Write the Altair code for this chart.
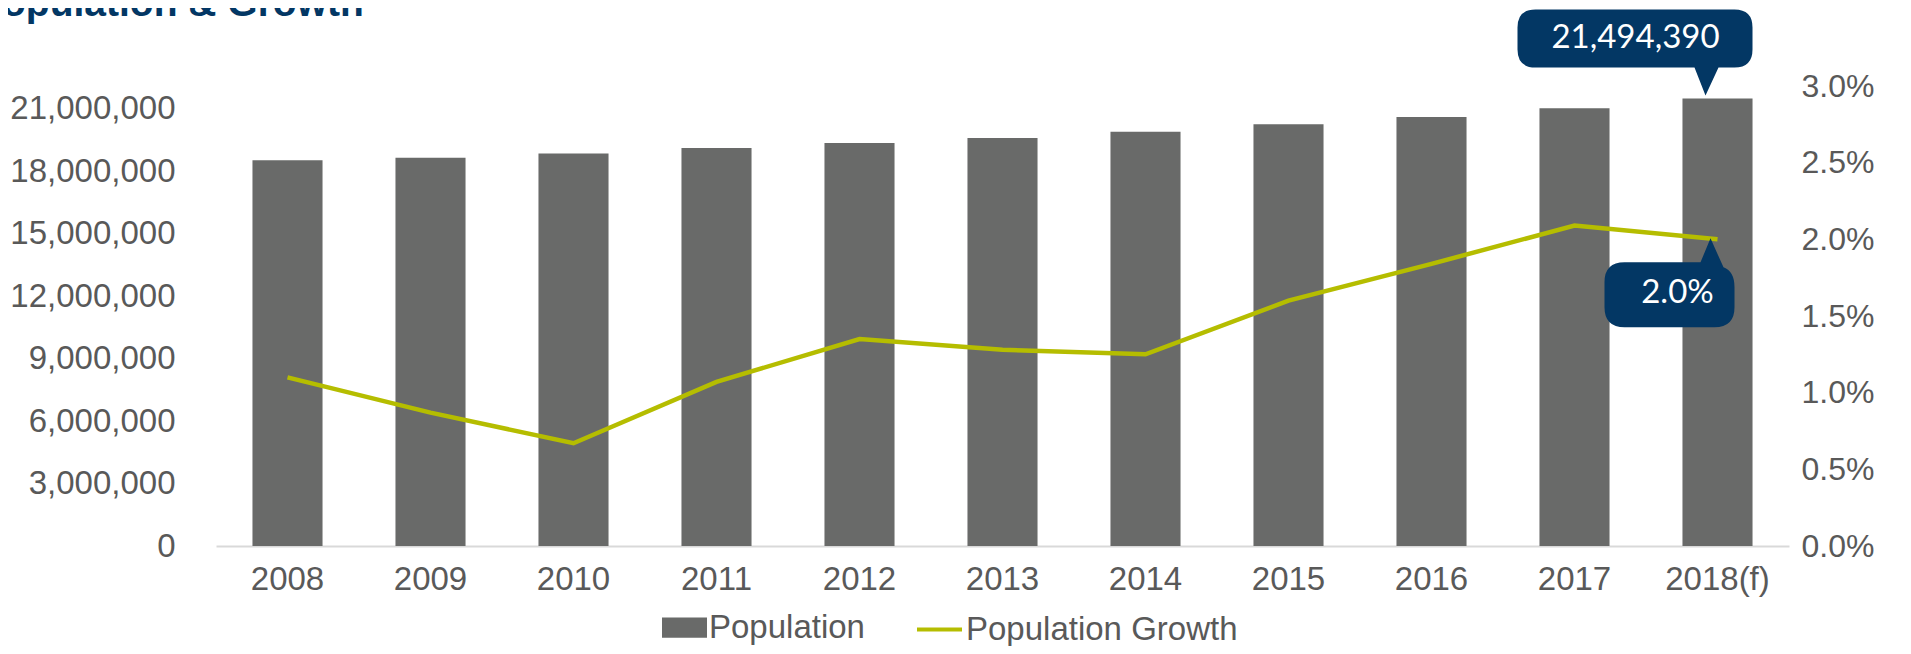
import altair as alt
import pandas as pd

YEARS = ["2008", "2009", "2010", "2011", "2012", "2013", "2014", "2015", "2016", "2017", "2018(f)"]
POPULATION = [18530000, 18650000, 18860000, 19120000, 19360000, 19600000, 19900000,
              20260000, 20610000, 21030000, 21494390]
GROWTH = [0.0110, 0.0087, 0.0067, 0.0107, 0.0135, 0.0128, 0.0125, 0.0160, 0.0184, 0.0209, 0.0200]
SERIES = ["Population", "Population Growth"]
POP_TICKS = [0, 3000000, 6000000, 9000000, 12000000, 15000000, 18000000, 21000000]
GROWTH_TICKS = [0.0, 0.005, 0.010, 0.015, 0.020, 0.025, 0.030]
TITLE = "Population & Growth"
HIGHLIGHT = "2018(f)"

GRAY = "#696A69"
OLIVE = "#B5BD00"
NAVY = "#033764"
LABEL = "#595959"
FONT = "Liberation Sans"
CALLOUT_FONT = "Lato"

# callout shapes (custom symbol paths, 1 unit = 1 px when size=4)
BOX_TOP = ("M-182,-89 L17,-89 Q35,-89 35,-71 L35,-49 Q35,-31 17,-31 L1,-31 L-12,-3 "
           "L-23,-31 L-182,-31 Q-200,-31 -200,-49 L-200,-71 Q-200,-89 -182,-89 Z")
BOX_LINE = ("M-93,23 L-17,23 L-7,-1 L6,28 Q17,32 17,48 L17,68 Q17,88 -3,88 L-93,88 "
            "Q-113,88 -113,68 L-113,43 Q-113,23 -93,23 Z")
RECT_SYMBOL = "M-1,-0.45H1V0.45H-1Z"

df = pd.DataFrame({"year": YEARS, "population": POPULATION, "growth": GROWTH})

X = alt.X("year:N", sort=YEARS,
          scale=alt.Scale(paddingInner=0.51, paddingOuter=0.255),
          axis=alt.Axis(title=None, labelAngle=0, labelFont=FONT, labelFontSize=33,
                        labelColor=LABEL, labelPadding=17, ticks=False, tickSize=0,
                        domainColor="#D9D9D9", domainWidth=2, grid=False))

Y_POP = alt.Y("population:Q",
              scale=alt.Scale(domain=[0, 22100000], nice=False, zero=True),
              axis=alt.Axis(title=None, orient="left", values=POP_TICKS,
                            labelExpr="format(datum.value, ',')",
                            labelFont=FONT, labelFontSize=33, labelColor=LABEL,
                            labelPadding=41, ticks=False, tickSize=0, domain=False,
                            grid=False))

Y_GROWTH = alt.Y("growth:Q",
                 scale=alt.Scale(domain=[0, 0.03], nice=False, zero=True),
                 axis=alt.Axis(title=None, orient="right", values=GROWTH_TICKS,
                               labelExpr="format(datum.value, '.1%')",
                               labelFont=FONT, labelFontSize=32, labelColor=LABEL,
                               labelPadding=12, ticks=False, tickSize=0, domain=False,
                               grid=False))

LEG_COMMON = dict(title=None, orient="none", direction="horizontal", legendY=519,
                  labelFont=FONT, labelFontSize=33, labelColor=LABEL, labelOffset=2,
                  labelLimit=500, symbolSize=2025, padding=0)

FILL = alt.Fill("series:N", scale=alt.Scale(domain=[SERIES[0]], range=[GRAY]),
                legend=alt.Legend(legendX=446, symbolType=RECT_SYMBOL,
                                  symbolFillColor=GRAY, symbolStrokeWidth=0,
                                  symbolOpacity=1, **LEG_COMMON))
STROKE = alt.Stroke("series:N", scale=alt.Scale(domain=[SERIES[1]], range=[OLIVE]),
                    legend=alt.Legend(legendX=699, symbolType="stroke",
                                      symbolStrokeWidth=4, symbolOpacity=1, **LEG_COMMON))

base = alt.Chart(df)

bars = base.transform_calculate(series="'%s'" % SERIES[0]).mark_bar().encode(
    x=X, y=Y_POP, fill=FILL)

hl = base.transform_filter(alt.datum.year == HIGHLIGHT)

box_top = hl.mark_point(shape=BOX_TOP, size=4, filled=True, fill=NAVY, opacity=1,
                        strokeWidth=0).encode(x=X, y=Y_POP)
text_top = hl.mark_text(align="center", baseline="middle", dx=-82, dy=-61,
                        font=CALLOUT_FONT, fontSize=33, color="white").encode(
    x=X, y=Y_POP, text=alt.Text("population:Q", format=","))

title = alt.Chart(pd.DataFrame({"t": [TITLE]})).mark_text(
    align="left", baseline="alphabetic", font=FONT, fontSize=39, fontWeight="bold",
    color=NAVY).encode(text="t:N", x=alt.value(-240), y=alt.value(-70))

line = base.transform_calculate(series="'%s'" % SERIES[1]).mark_line(strokeWidth=4.5).encode(
    x=X, y=Y_GROWTH, stroke=STROKE)

box_line = hl.mark_point(shape=BOX_LINE, size=4, filled=True, fill=NAVY, opacity=1,
                         strokeWidth=0).encode(x=X, y=Y_GROWTH)
text_line = hl.mark_text(align="center", baseline="middle", dx=-40, dy=54,
                         font=CALLOUT_FONT, fontSize=33, color="white").encode(
    x=X, y=Y_GROWTH, text=alt.Text("growth:Q", format=".1%"))

left = alt.layer(bars, box_top, text_top, title)
right = alt.layer(line, box_line, text_line)

chart = alt.layer(left, right).resolve_scale(y="independent").properties(
    width=1573, height=460,
    autosize=alt.AutoSizeParams(type="none"),
    padding={"left": 208, "top": 78, "right": 106, "bottom": 100},
    background="white",
).configure_view(stroke=None)

chart.save("out.html", embed_options={"renderer": "svg", "actions": False})
